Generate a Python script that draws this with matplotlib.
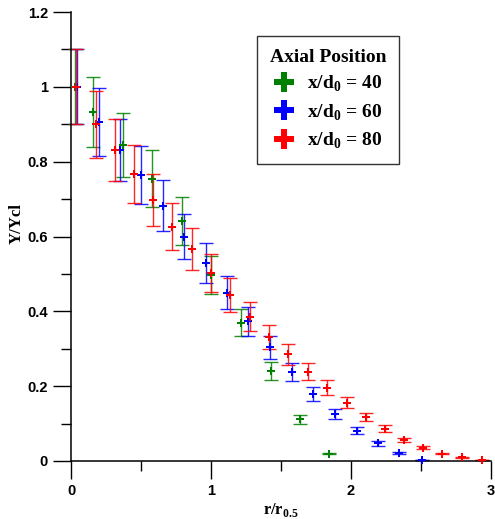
import matplotlib
matplotlib.use("Agg")
import matplotlib.pyplot as plt
from matplotlib.lines import Line2D
from matplotlib.ticker import MultipleLocator

plt.rcParams['mathtext.fontset'] = 'custom'
plt.rcParams['mathtext.rm'] = 'Liberation Serif:bold'
plt.rcParams['mathtext.bf'] = 'Liberation Serif:bold'

# x/d0 = 40
r40 = [0.03, 0.155, 0.369, 0.579, 0.79, 1.0, 1.214, 1.426, 1.636, 1.845]
y40 = [1.0, 0.933, 0.845, 0.755, 0.642, 0.497, 0.37, 0.24, 0.112, 0.02]
e40 = [0.1, 0.093, 0.085, 0.076, 0.064, 0.05, 0.037, 0.024, 0.012, 0.002]

# x/d0 = 60
r60 = [0.04, 0.198, 0.352, 0.5, 0.655, 0.807, 0.964, 1.112, 1.267, 1.421,
       1.581, 1.731, 1.886, 2.04, 2.19, 2.345, 2.505]
y60 = [1.0, 0.906, 0.831, 0.764, 0.682, 0.599, 0.529, 0.45, 0.373, 0.304,
       0.237, 0.179, 0.125, 0.081, 0.047, 0.021, 0.003]
e60 = [0.1, 0.091, 0.083, 0.077, 0.068, 0.06, 0.053, 0.045, 0.038, 0.031,
       0.024, 0.018, 0.013, 0.009, 0.006, 0.003, 0.001]

# x/d0 = 80
r80 = [0.036, 0.176, 0.314, 0.45, 0.588, 0.724, 0.862, 1.0, 1.138, 1.279,
       1.417, 1.552, 1.695, 1.831, 1.969, 2.105, 2.243, 2.379, 2.517, 2.652,
       2.795, 2.933]
y80 = [1.0, 0.9, 0.831, 0.767, 0.697, 0.626, 0.567, 0.502, 0.443, 0.386,
       0.331, 0.285, 0.239, 0.196, 0.156, 0.117, 0.086, 0.056, 0.036, 0.02,
       0.01, 0.003]
e80 = [0.1, 0.09, 0.083, 0.077, 0.07, 0.063, 0.057, 0.05, 0.045, 0.038,
       0.033, 0.029, 0.023, 0.02, 0.015, 0.011, 0.009, 0.006, 0.004, 0.002,
       0.001, 0.0]

series = [
    (r40, y40, e40, '#008000', r'x/d$_0$ = 40'),
    (r60, y60, e60, '#0000ff', r'x/d$_0$ = 60'),
    (r80, y80, e80, '#ff0000', r'x/d$_0$ = 80'),
]

fig = plt.figure(figsize=(4.95, 5.19), dpi=100)
ax = fig.add_axes([71 / 495, 1 - 461 / 519, 420 / 495, 449 / 519])

handles = []
for r, y, e, col, lab in series:
    # error bars first, then the filled plus markers on top
    ax.errorbar(r, y, yerr=e, fmt='none', ecolor=col, elinewidth=1,
                capsize=5, capthick=1, alpha=0.85, clip_on=False)
    ax.plot(r, y, ls='none', marker='P', ms=5.5, mew=0, color=col,
            clip_on=False, zorder=3)
    handles.append(Line2D([], [], ls='none', marker='P', ms=15, mew=0,
                          color=col, label=lab))

ax.set_xlim(0, 3)
ax.set_ylim(0, 1.2)
ax.xaxis.set_major_locator(MultipleLocator(1))
ax.xaxis.set_minor_locator(MultipleLocator(0.5))
ax.yaxis.set_minor_locator(MultipleLocator(0.1))
ax.set_yticks([0, 0.2, 0.4, 0.6, 0.8, 1, 1.2])
ax.set_yticklabels(['0', '0.2', '0.4', '0.6', '0.8', '1', '1.2'])

for s in ['top', 'right']:
    ax.spines[s].set_visible(False)
for s in ['left', 'bottom']:
    ax.spines[s].set_linewidth(1.1)

ax.tick_params(which='major', direction='out', length=13, width=1, pad=3.5)
ax.tick_params(which='minor', direction='out', length=7, width=1)
for t in ax.get_xticklabels() + ax.get_yticklabels():
    t.set_fontfamily('Liberation Sans')
    t.set_fontweight('bold')
    t.set_fontsize(10.5)

ax.set_xlabel(r'r/r$_{0.5}$', fontfamily='Liberation Serif',
              fontweight='bold', fontsize=12)
ax.xaxis.set_label_coords(0.5, -0.09)
ax.set_ylabel('Y/Ycl', fontfamily='Liberation Serif',
              fontweight='bold', fontsize=12)
ax.yaxis.set_label_coords(-0.11, 0.528)

leg = ax.legend(handles=handles, title='Axial Position',
                loc='upper left', bbox_to_anchor=(0.443, 0.9465),
                borderaxespad=0, frameon=True, fancybox=False,
                edgecolor='black', handlelength=1.1, handletextpad=0.65,
                labelspacing=0.42, borderpad=0.65,
                prop={'family': 'Liberation Serif', 'weight': 'bold',
                      'size': 14})
leg.get_frame().set_linewidth(1)
leg.get_title().set_fontfamily('Liberation Serif')
leg.get_title().set_fontweight('bold')
leg.get_title().set_fontsize(14)

fig.savefig('out.png', dpi=100)
